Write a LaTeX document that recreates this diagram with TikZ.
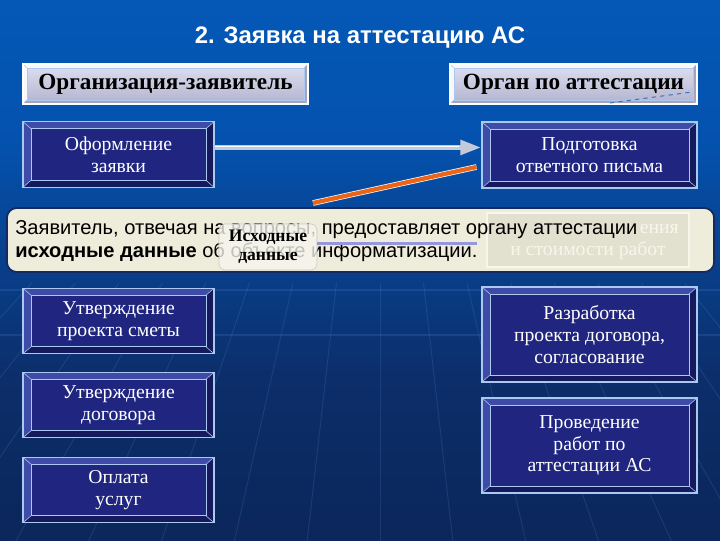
\documentclass[tikz,border=0pt]{standalone}
\usepackage{fontspec}
\setmainfont{Liberation Serif}
\newfontfamily\sansfont{Liberation Sans}
\usetikzlibrary{calc,arrows.meta}

\definecolor{bgtop}{RGB}{6,100,200}
\definecolor{bgmid}{RGB}{4,82,174}
\definecolor{bglow}{RGB}{12,46,106}
\definecolor{bgbot}{RGB}{8,26,66}
\definecolor{navyfill}{RGB}{32,38,128}
\definecolor{bevlight}{RGB}{62,76,168}
\definecolor{bevdark}{RGB}{20,26,92}
\definecolor{bevline}{RGB}{170,200,240}
\definecolor{lavtop}{RGB}{224,224,242}
\definecolor{lavbot}{RGB}{178,178,206}
\definecolor{creamfill}{RGB}{238,236,218}
\definecolor{fadefill}{RGB}{226,225,208}
\definecolor{fadetext}{RGB}{247,246,234}
\definecolor{calloutedge}{RGB}{22,42,96}
\definecolor{arrowgray}{RGB}{196,202,218}
\definecolor{orangeline}{RGB}{236,100,24}
\definecolor{linkpurple}{RGB}{150,150,222}
\definecolor{raycol}{RGB}{110,150,225}

\pgfdeclareverticalshading{slidebg}{100bp}{color(0bp)=(bgbot); color(40bp)=(bglow); color(62bp)=(bgmid); color(100bp)=(bgtop)}

\newcommand\titlefont{\sansfont\bfseries\fontsize{17}{20}\selectfont}
\newcommand\headfont{\bfseries\fontsize{16.5}{19}\selectfont}
\newcommand\boxfont{\fontsize{14}{15.6}\selectfont}
\newcommand\callfont{\sansfont\fontsize{14.3}{16}\selectfont}
\newcommand\tagfont{\bfseries\fontsize{12.5}{13.5}\selectfont}

% bevel frame: #1,#2 = inset, #3 = light band, #4 = dark band
\newcommand{\bevelpic}[4]{%
  \coordinate (pa) at (path picture bounding box.north west);
  \coordinate (pc) at (path picture bounding box.south east);
  \fill[#3] (pa) -- (pa -| pc) -- ($(pa -| pc)+(-#1,#2)$) -- ($(pa)+(#1,#2)$)
     -- ($(pa |- pc)+(#1,-#2)$) -- (pa |- pc) -- cycle;
  \fill[#4] (pc) -- (pa |- pc) -- ($(pa |- pc)+(#1,-#2)$) -- ($(pc)+(-#1,-#2)$)
     -- ($(pa -| pc)+(-#1,#2)$) -- (pa -| pc) -- cycle;
  \draw[bevline, line width=0.6pt] ($(pa)+(#1,#2)$) rectangle ($(pc)+(-#1,-#2)$);
  \draw[bevline, line width=0.4pt] (pa) -- ++(#1,#2) (pc) -- ++(-#1,-#2)
     (pa -| pc) -- ++(-#1,#2) (pa |- pc) -- ++(#1,-#2);
}

\tikzset{
  navybox/.style={draw=bevline, line width=0.8pt, fill=navyfill, text=white,
    align=center, inner sep=0pt, font=\boxfont,
    path picture={\bevelpic{8}{7}{bevlight}{bevdark}}},
  leftcol/.style={navybox, minimum width=4.775cm, minimum height=1.64cm},
  rightcol/.style={navybox, minimum width=5.375cm},
  lavbox/.style={draw=white, line width=0.8pt, top color=lavtop, bottom color=lavbot,
    align=center, inner sep=0pt, font=\headfont, minimum height=1cm,
    path picture={\bevelpic{4}{4}{white!75!lavtop}{lavbot!75!gray}}},
  callout/.style={draw=calloutedge, line width=1.3pt, fill=creamfill,
    rounded corners=7pt, minimum width=17.675cm, minimum height=1.6cm},
  fadebox/.style={draw=fadetext, line width=0.8pt, fill=fadefill,
    minimum width=5.05cm, minimum height=1.35cm},
  fadeline/.style={text=fadetext, font=\boxfont, inner sep=0pt},
  tagbox/.style={draw=gray!45, fill=white!55!creamfill, fill opacity=0.78,
    text opacity=1, rounded corners=4pt, align=center, inner sep=0pt,
    font=\tagfont, minimum width=2.45cm, minimum height=1.15cm},
  grayarrow/.style={draw=arrowgray, line width=3.6pt,
    -{Triangle[length=15pt,width=10pt]}},
  orangeln/.style={draw=white, line width=0.5pt, double=orangeline,
    double distance=3pt},
  linkline/.style={draw=linkpurple, line width=2.2pt},
  ray/.style={draw=raycol, line width=0.7pt, opacity=0.16}
}

\begin{document}
\begin{tikzpicture}[x=0.025cm, y=-0.025cm]

    %% Background
    \useasboundingbox (0,0) rectangle (720,540);
    \shade[shading=slidebg] (0,0) rectangle (720,540);
    \begin{scope}
        \clip (0,283) rectangle (720,540);
        \foreach \k in {-14,...,14}
            \draw[ray] (380,-100) -- (380+\k*75,560);
        \draw[ray, line width=1.2pt] (0,335) -- (720,335);
        \draw[ray, line width=1.5pt] (0,290) -- (720,290);
    \end{scope}

    % Title
    \node[font=\titlefont, text=white] (title) at (360,38) {2. Заявка на аттестацию АС};

    % Column heads
    \node[lavbox, minimum width=7.125cm] (zayav) at (165.5,84) {Организация-заявитель};
    \node[lavbox, minimum width=6.175cm] (organ) at (573.5,84) {Орган по аттестации};
    \coordinate (dashA) at (610,103);
    \coordinate (dashB) at (692,92);
    \draw[dashed, draw=bgmid!80!white, line width=0.7pt] (dashA) -- (dashB);

    % Applicant steps
    \node[leftcol] (form)    at (118.5,154.5) {Оформление\\заявки};
    \node[leftcol] (smeta)   at (118.5,321)   {Утверждение\\проекта сметы};
    \node[leftcol] (dogovor) at (118.5,405)   {Утверждение\\договора};
    \node[leftcol] (oplata)  at (118.5,490)   {Оплата\\услуг};

    % Body steps
    \node[rightcol, minimum height=1.65cm]  (otvet)  at (589.5,155)   {Подготовка\\ответного письма};
    \node[rightcol, minimum height=2.375cm] (razrab) at (589.5,334.5) {Разработка\\проекта договора,\\согласование};
    \node[rightcol, minimum height=2.375cm] (proved) at (589.5,445.5) {Проведение\\работ по\\аттестации АС};

    % Connectors
    \draw[grayarrow] ([yshift=5pt]form.east) -- ([yshift=5pt]form.east -| otvet.west);
    \draw[white, line width=0.9pt] ([yshift=5.9pt]form.east) -- ([xshift=-16pt, yshift=5.9pt]form.east -| otvet.west);
    \coordinate (orgEnd) at (313,203);
    \draw[orangeln] ([xshift=-3.5pt, yshift=-8.5pt]otvet.west) -- (orgEnd);

    % Note over the diagram
    \node[callout] (note) at (360.5,240) {};
    \node[fadebox] (fbox) at (588,240) {};
    \node[fadeline, anchor=east] (fline1) at (679,229) {ения};
    \node[fadeline] (fline2) at (588,251) {и стоимости работ};
    \node[anchor=west, align=left, font=\callfont, inner sep=0pt] (notetext) at (15,241)
        {Заявитель, отвечая на вопросы, предоставляет органу аттестации\\
         \textbf{исходные данные} об объекте информатизации.};
    \node[tagbox] (ish) at (268,247) {Исходные\\данные};
    \draw[linkline, shorten >=7pt] ([yshift=2.8pt]ish.east) -- ([yshift=2.8pt]ish.east -| fbox.west);

\end{tikzpicture}
\end{document}
